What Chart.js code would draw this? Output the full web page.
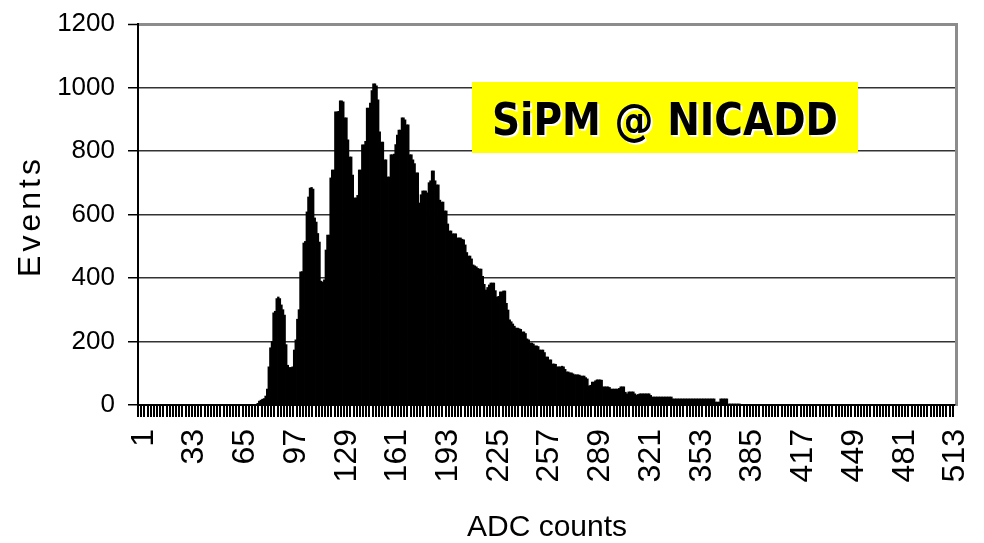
<!DOCTYPE html>
<html>
<head>
    <meta charset="utf-8">
    <title>SiPM @ NICADD</title>
    <style>
        html, body {
            margin: 0;
            padding: 0;
            background: #fff;
        }
        #chartBox {
            width: 984px;
            height: 543px;
        }
    </style>
    <script src="https://cdn.jsdelivr.net/npm/chart.js"></script>
</head>
<body>
    <div id="chartBox">
        <canvas id="myChart" width="984" height="543"></canvas>
    </div>

    <script>
        // ADC channels 1..516 (category axis)
        const adcChannels = Array.from({ length: 516 }, (_, i) => i + 1);
        const xTickLabels = ['1', '33', '65', '97', '129', '161', '193', '225', '257',
                             '289', '321', '353', '385', '417', '449', '481', '513'];
        const yTickValues = [0, 200, 400, 600, 800, 1000, 1200];

        // events per ADC channel
        const events = [
            // 1-75
            0, 0, 0, 0, 0, 0, 0, 0, 0, 0, 0, 0, 0, 0, 0,
            0, 0, 0, 0, 0, 0, 0, 0, 0, 0, 0, 0, 0, 0, 0,
            0, 0, 0, 0, 0, 0, 0, 0, 0, 0, 0, 0, 0, 0, 0,
            0, 0, 0, 0, 0, 0, 0, 0, 0, 0, 0, 0, 0, 0, 0,
            0, 0, 0, 0, 0, 0, 0, 0, 0, 0, 0, 0, 0, 0, 0,
            // 76-85
            5, 12, 15, 18, 20, 28, 50, 120, 180, 200,
            290, 295, 335, 340, 335, 315, 300, 283, 190, 125,
            118, 118, 120, 173, 205, 270, 300, 419, 420, 510,
            515, 608, 655, 683, 685, 680, 589, 576, 540, 513,
            // 116-125
            390, 387, 394, 488, 535, 535, 715, 740, 740, 923,
            923, 925, 958, 958, 955, 904, 904, 835, 781, 781,
            724, 652, 652, 660, 740, 740, 819, 819, 830, 935,
            935, 951, 990, 1011, 1011, 1005, 961, 860, 828, 828,
            // 156-165
            772, 772, 718, 718, 788, 788, 790, 820, 850, 866,
            866, 904, 904, 898, 882, 882, 788, 788, 772, 760,
            731, 731, 636, 662, 674, 674, 674, 668, 700, 706,
            737, 737, 706, 693, 693, 645, 639, 639, 611, 611,
            // 196-205
            570, 548, 548, 539, 539, 539, 526, 526, 526, 522,
            520, 504, 480, 469, 469, 460, 441, 438, 435, 430,
            428, 428, 405, 380, 362, 370, 378, 384, 384, 384,
            360, 340, 342, 356, 356, 359, 359, 320, 299, 268,
            // 236-245
            262, 255, 248, 242, 242, 240, 238, 230, 230, 225,
            208, 205, 195, 195, 192, 186, 186, 184, 173, 173,
            173, 165, 151, 151, 142, 142, 129, 129, 128, 120,
            120, 120, 122, 120, 112, 104, 104, 101, 101, 98,
            // 276-285
            95, 95, 95, 94, 91, 91, 91, 86, 82, 60,
            62, 72, 72, 76, 79, 79, 79, 78, 57, 57,
            57, 57, 55, 50, 50, 50, 50, 50, 52, 57,
            57, 57, 40, 35, 41, 41, 41, 41, 35, 31,
            // 316-325
            33, 35, 35, 35, 35, 35, 35, 35, 30, 25,
            25, 25, 25, 25, 25, 25, 25, 25, 25, 25,
            25, 25, 19, 19, 19, 19, 19, 19, 19, 19,
            19, 19, 19, 19, 19, 19, 19, 19, 19, 19,
            // 356-365
            19, 19, 19, 19, 19, 19, 19, 19, 19, 9,
            9, 9, 19, 19, 19, 19, 19, 3, 3, 3,
            3, 3, 3, 3, 3, 0, 0, 0, 0, 0,
            // 386-516
            0, 0, 0, 0, 0, 0, 0, 0, 0, 0, 0, 0, 0, 0, 0, 0, 0, 0, 0, 0,
            0, 0, 0, 0, 0, 0, 0, 0, 0, 0, 0, 0, 0, 0, 0, 0, 0, 0, 0, 0,
            0, 0, 0, 0, 0, 0, 0, 0, 0, 0, 0, 0, 0, 0, 0, 0, 0, 0, 0, 0,
            0, 0, 0, 0, 0, 0, 0, 0, 0, 0, 0, 0, 0, 0, 0, 0, 0, 0, 0, 0,
            0, 0, 0, 0, 0, 0, 0, 0, 0, 0, 0, 0, 0, 0, 0, 0, 0, 0, 0, 0,
            0, 0, 0, 0, 0, 0, 0, 0, 0, 0, 0, 0, 0, 0, 0, 0, 0, 0, 0, 0,
            0, 0, 0, 0, 0, 0, 0, 0, 0, 0, 0
        ];

        if (events.length !== adcChannels.length) {
            console.error('length mismatch', events.length, adcChannels.length);
        }

        const ARIAL = '"Liberation Sans", Arial, sans-serif';

        // yellow label box + rotated, letter-spaced y title
        const annotations = {
            id: 'annotations',
            afterDraw(chart) {
                const c = chart.ctx;
                const text = 'SiPM @ NICADD';

                c.save();
                c.fillStyle = '#ffff00';
                c.fillRect(472, 82, 386, 71);
                c.font = 'bold 45px "DejaVu Sans", Verdana, sans-serif';
                const sx = 346 / c.measureText(text).width;
                c.translate(665, 135);
                c.scale(sx, 1);
                c.textAlign = 'center';
                c.textBaseline = 'alphabetic';
                c.fillStyle = '#ffffff';
                c.fillText(text, 2 / sx, 2);
                c.fillStyle = '#000000';
                c.fillText(text, 0, 0);
                c.restore();

                c.save();
                c.translate(31, 218);
                c.rotate(-Math.PI / 2);
                c.font = '32px ' + ARIAL;
                c.letterSpacing = '4px';
                c.textAlign = 'center';
                c.textBaseline = 'middle';
                c.fillStyle = '#000';
                c.fillText('Events', 2, 0);
                c.restore();
            }
        };

        let ctx = document.getElementById('myChart').getContext('2d');
        let myChart = new Chart(ctx, {
            type: 'bar',
            data: {
                labels: adcChannels,
                datasets: [{
                    label: 'Events',
                    data: events,
                    backgroundColor: '#000',
                    borderWidth: 0,
                    inflateAmount: 0.4,
                    categoryPercentage: 1,
                    barPercentage: 1
                }]
            },
            plugins: [annotations],
            options: {
                responsive: false,
                animation: false,
                devicePixelRatio: 1,
                layout: {
                    padding: { left: 0, top: 24, right: 28, bottom: 0 }
                },
                plugins: {
                    legend: { display: false },
                    tooltip: { enabled: false }
                },
                scales: {
                    x: {
                        grid: {
                            drawOnChartArea: false,
                            drawTicks: true,
                            tickLength: 12,
                            color: (c) => (c.index % 2 === 0 ? '#000' : 'rgba(0,0,0,0)'),
                            lineWidth: 2
                        },
                        border: { color: '#000', width: 2 },
                        ticks: {
                            autoSkip: false,
                            maxRotation: 90,
                            minRotation: 90,
                            padding: 12,
                            labelOffset: 5,
                            color: '#000',
                            font: { family: ARIAL, size: 32 },
                            callback: function (value) {
                                const lab = String(this.getLabelForValue(value));
                                return xTickLabels.includes(lab) ? lab : '';
                            }
                        },
                        title: {
                            display: true,
                            text: 'ADC counts',
                            color: '#000',
                            font: { family: ARIAL, size: 30, lineHeight: 1.0 },
                            padding: { top: 0, bottom: 0 }
                        },
                        afterFit: (s) => {
                            s.height = 138;
                            s.paddingLeft = 0;
                            s.paddingRight = 0;
                        }
                    },
                    y: {
                        min: yTickValues[0],
                        max: yTickValues[yTickValues.length - 1],
                        ticks: {
                            stepSize: yTickValues[1] - yTickValues[0],
                            padding: 13,
                            color: '#000',
                            font: { family: ARIAL, size: 26 },
                            callback: (v) => String(v)
                        },
                        grid: {
                            color: (c) => (c.tick && c.tick.value === 1200 ? '#8c8c8c' : '#333'),
                            lineWidth: (c) => (c.tick && c.tick.value === 1200 ? 3 : 1.5),
                            tickLength: 10,
                            tickColor: '#000',
                            tickWidth: 1.5
                        },
                        border: { color: '#000', width: 2 },
                        afterFit: (s) => {
                            s.width = 138;
                            s.paddingTop = 0;
                            s.paddingBottom = 0;
                        }
                    },
                    yRight: {
                        position: 'right',
                        min: 0,
                        max: 1200,
                        grid: { display: false },
                        ticks: { display: false },
                        border: { color: '#8c8c8c', width: 3 },
                        afterFit: (s) => {
                            s.width = 0;
                            s.paddingTop = 0;
                            s.paddingBottom = 0;
                        }
                    }
                }
            }
        });
    </script>
</body>
</html>
